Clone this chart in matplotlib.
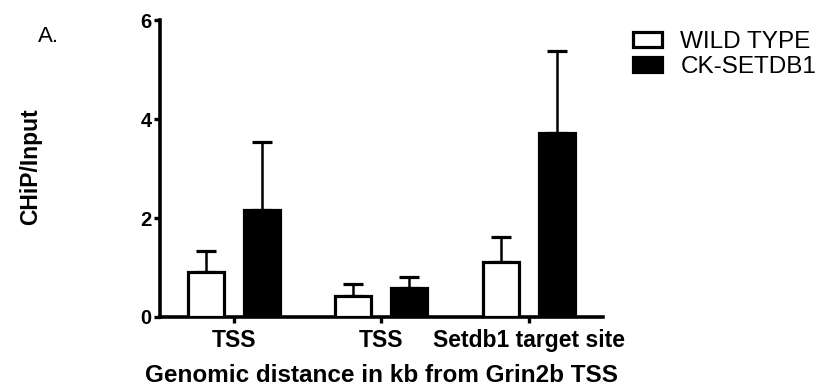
import numpy as np
import matplotlib
matplotlib.use("Agg")
import matplotlib.pyplot as plt
from matplotlib.patches import Patch

plt.rcParams['font.family'] = ['Liberation Sans', 'DejaVu Sans']

# data
sites = ["TSS", "TSS", "Setdb1 target site"]
wild_type = [0.91, 0.42, 1.12]
wild_type_err = [0.43, 0.24, 0.49]
ck_setdb1 = [2.16, 0.58, 3.72]
ck_setdb1_err = [1.38, 0.23, 1.66]
series_names = ["WILD TYPE", "CK-SETDB1"]

x = np.arange(len(sites))
w = 0.245
off = 0.19

fig = plt.figure(figsize=(8.21, 3.87), dpi=100)
ax = fig.add_axes([0.195, 0.181, 0.539, 0.767])

ax.bar(x - off, wild_type, w, color="white", edgecolor="black", linewidth=2.3, zorder=3)
ax.bar(x + off, ck_setdb1, w, color="black", edgecolor="black", linewidth=2.3, zorder=3)

zeros = np.zeros(len(sites))
ax.errorbar(x - off, wild_type, yerr=[zeros, wild_type_err], fmt="none", ecolor="black",
            elinewidth=1.8, capsize=7, capthick=2.3, zorder=2)
ax.errorbar(x + off, ck_setdb1, yerr=[zeros, ck_setdb1_err], fmt="none", ecolor="black",
            elinewidth=1.8, capsize=7, capthick=2.3, zorder=2)

ax.set_xlim(-0.5, 2.5)
ax.set_ylim(0, 6)
ax.set_yticks([0, 2, 4, 6])
ax.set_xticks(x)
ax.set_xticklabels(sites, fontsize=16.5, fontweight="bold")
for lbl in ax.get_yticklabels():
    lbl.set_fontsize(14.5)
    lbl.set_fontweight("bold")

for s in ["top", "right"]:
    ax.spines[s].set_visible(False)
for s in ["left", "bottom"]:
    ax.spines[s].set_linewidth(2.6)
ax.tick_params(axis="both", direction="out", length=4, width=2.4, pad=2)
ax.tick_params(axis="x", pad=5)

ax.set_xlabel("Genomic distance in kb from Grin2b TSS", fontsize=17.5, fontweight="bold", labelpad=8)
fig.text(0.037, 0.57, "CHiP/Input", rotation=90, fontsize=16.5, fontweight="bold",
         ha="center", va="center")
fig.text(0.046, 0.905, "A.", fontsize=16, ha="left", va="center")

handles = [Patch(facecolor="white", edgecolor="black", linewidth=2.3),
           Patch(facecolor="black", edgecolor="black", linewidth=2.3)]
fig.legend(handles, series_names, loc="upper left", bbox_to_anchor=(0.771, 0.92),
           frameon=False, fontsize=17.5, handlelength=1.2, handleheight=0.55,
           handletextpad=0.75, labelspacing=0.13, borderaxespad=0, borderpad=0)

fig.savefig("out.png", dpi=100)
